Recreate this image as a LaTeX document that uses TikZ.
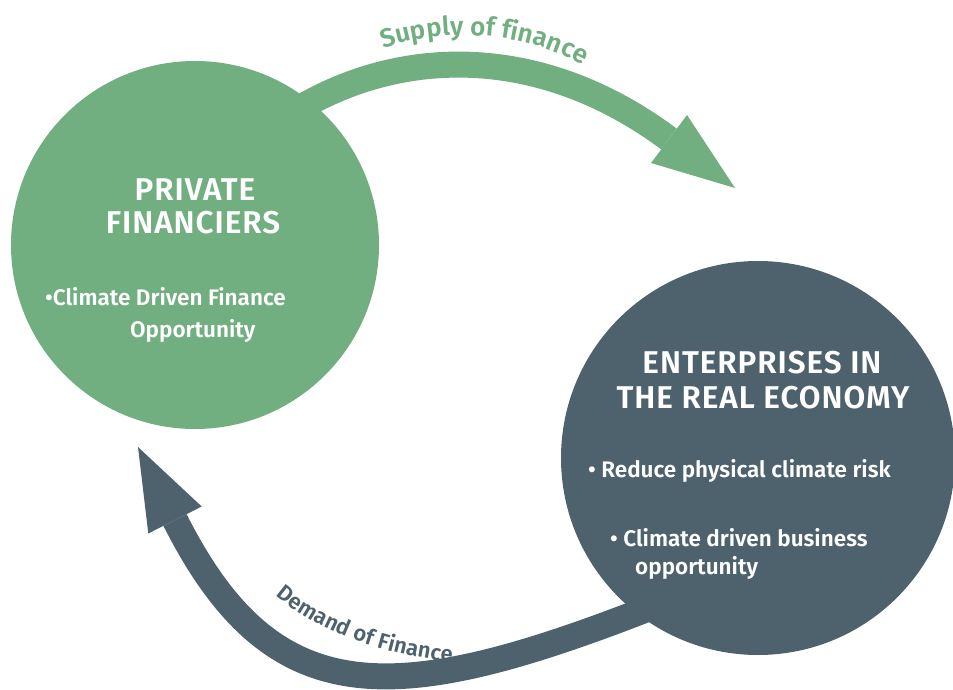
\documentclass[tikz,border=0pt]{standalone}
\usepackage{fontspec}
\setmainfont{Fira Sans}[BoldFont={Fira Sans SemiBold}]
\usetikzlibrary{decorations.text,calc}
\definecolor{pfgreen}{HTML}{71AE80}
\definecolor{reslate}{HTML}{4E626D}
\pgfdeclarelayer{bg}
\pgfsetlayers{bg,main}
\begin{document}
\begin{tikzpicture}[x=1pt,y=-1pt,
  bigtitle/.style={text=white, font=\bfseries\fontsize{31.5}{36}\selectfont\addfontfeature{LetterSpace=3}, inner sep=0, anchor=base},
  bodytext/.style={text=white, font=\bfseries\fontsize{22.5}{27}\selectfont, anchor=base west, inner sep=0},
  band/.style={line width=26pt},
  disc/.style={circle, inner sep=0, draw=none},
]
\useasboundingbox (0,0) rectangle (953,690);
% circles
\node[disc, fill=pfgreen, minimum size=368pt] (pf) at (195,245) {};
\node[disc, fill=reslate, minimum size=394pt] (re) at (758,458) {};
% arrows (behind)
\coordinate (s1) at ($(pf.center)+(105,-137)$);
\coordinate (b1) at (669,139);
\coordinate (t1) at (735,188);
\coordinate (s2) at ($(re.center)+(-93,144)$);
\coordinate (b2) at (175,520);
\coordinate (t2) at (138,447);
\begin{pgfonlayer}{bg}
\draw[band, pfgreen] (s1) .. controls (402,48) and (540,43) .. (b1);
\fill[pfgreen] ($(b1)+(18,-24)$) -- (t1) -- ($(b1)+(-18,24)$) -- cycle;
\draw[band, reslate] (s2) .. controls (395,709) and (274,716) .. (b2);
\fill[reslate] ($(b2)+(26.7,-13.5)$) -- (t2) -- ($(b2)+(-26.7,13.5)$) -- cycle;
\end{pgfonlayer}
% arrow labels
\path[decorate, decoration={text along path, text align=center,
  text={|\bfseries\fontsize{26}{30}\selectfont\color{pfgreen}|Supply of finance}}]
  (368,54) .. controls (440,24) and (530,29) .. (597,74);
\path[decorate, decoration={text along path, text align=center,
  text={|\bfseries\fontsize{22}{26}\selectfont\color{reslate}|Demand of Finance}}]
  (262,583) .. controls (312,632) and (385,657) .. (470,664);
% texts in green circle
\node[bigtitle] (pft1) at (195,200) {PRIVATE};
\node[bigtitle] (pft2) at (193,233) {FINANCIERS};
\node[bodytext] (pfb1) at (45,305) {•Climate Driven Finance};
\node[bodytext] (pfb2) at (130,337) {Opportunity};
% texts in slate circle
\node[bigtitle] (ret1) at (762,373) {ENTERPRISES IN};
\node[bigtitle] (ret2) at (763,408) {THE REAL ECONOMY};
\node[bodytext] (reb1) at (588,477) {• Reduce physical climate risk};
\node[bodytext] (reb2) at (610,546) {• Climate driven business};
\node[bodytext] (reb3) at (635,574) {opportunity};
\end{tikzpicture}
\end{document}
